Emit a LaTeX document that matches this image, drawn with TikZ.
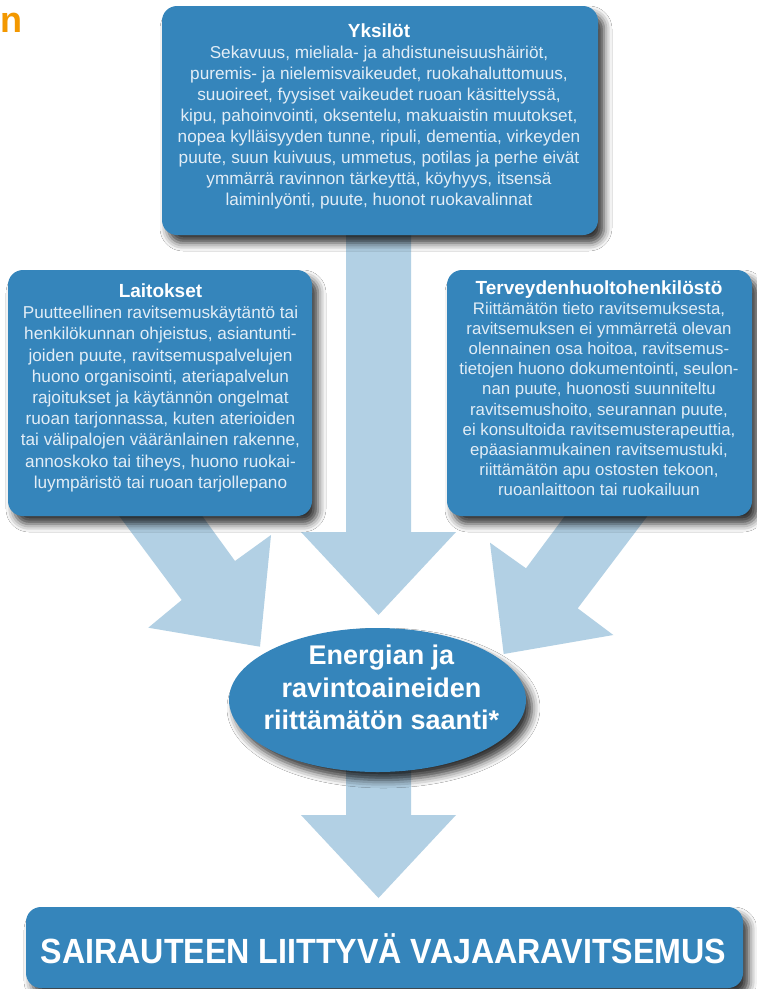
\documentclass[tikz,border=0pt]{standalone}
\usepackage{fontspec}
\setmainfont{Liberation Sans}
\usetikzlibrary{shapes.geometric,shadows.blur}
\definecolor{boxblue}{HTML}{3585BB}
\definecolor{arrowblue}{HTML}{B2D0E4}
\definecolor{bodytxt}{HTML}{E2EDF6}
\definecolor{orangeh}{HTML}{F39800}
\begin{document}
\begin{tikzpicture}[x=1pt,y=-1pt,
  softshadow/.style={blur shadow={shadow xshift=6pt, shadow yshift=-8pt, shadow blur radius=8pt, shadow opacity=80}},
  bluebox/.style={rectangle, fill=boxblue, draw=none, rounded corners=15pt, inner sep=0pt, softshadow},
  blockarrow/.style={fill=arrowblue, draw=none},
  boxtext/.style={inner sep=0pt, align=center, text=bodytxt, anchor=north},
]
\useasboundingbox[fill=white] (0,0) rectangle (756,989);

% orange heading fragment
\node[anchor=base east, inner sep=0pt, text=orangeh, font=\fontsize{36pt}{40pt}\selectfont\bfseries] (hdr) at (22.5,32) {n};

% block arrows
\coordinate (c1) at (346,220); \coordinate (c2) at (346,532); \coordinate (c3) at (301,532);
\coordinate (c4) at (378.5,615); \coordinate (c5) at (456,532); \coordinate (c6) at (411,532);
\coordinate (c7) at (411,220);
\fill[blockarrow] (c1) -- (c2) -- (c3) -- (c4) -- (c5) -- (c6) -- (c7) -- cycle;

\coordinate (l1) at (111,505); \coordinate (l2) at (181.7,600); \coordinate (l3) at (148.3,627.7);
\coordinate (l4) at (260,646.7); \coordinate (l5) at (271,535); \coordinate (l6) at (235,561);
\coordinate (l7) at (194.3,505);
\fill[blockarrow] (l1) -- (l2) -- (l3) -- (l4) -- (l5) -- (l6) -- (l7) -- cycle;

\coordinate (r1) at (655.8,505); \coordinate (r2) at (577.7,608.3); \coordinate (r3) at (613.3,635);
\coordinate (r4) at (503.7,654); \coordinate (r5) at (490,542.7); \coordinate (r6) at (526,568.3);
\coordinate (r7) at (573,505);
\fill[blockarrow] (r1) -- (r2) -- (r3) -- (r4) -- (r5) -- (r6) -- (r7) -- cycle;

\coordinate (b1) at (346,740); \coordinate (b2) at (346,815); \coordinate (b3) at (301,815);
\coordinate (b4) at (378.5,898); \coordinate (b5) at (456,815); \coordinate (b6) at (411,815);
\coordinate (b7) at (411,740);
\fill[blockarrow] (b1) -- (b2) -- (b3) -- (b4) -- (b5) -- (b6) -- (b7) -- cycle;

% boxes
\node[bluebox, minimum width=436pt, minimum height=229pt] (yks) at (380,120.5) {};
\node[bluebox, minimum width=304pt, minimum height=246pt] (lai) at (160,393) {};
\node[bluebox, minimum width=305pt, minimum height=246pt] (ter) at (599.5,393) {};
\node[ellipse, fill=boxblue, draw=none, inner sep=0pt, minimum width=297pt, minimum height=144pt, softshadow] (ell) at (377.5,700) {};
\node[bluebox, minimum width=717pt, minimum height=81pt] (sai) at (384.5,947.5) {};

% texts
\node[boxtext, font=\fontsize{17.2pt}{21pt}\selectfont] (yksT) at (379,23.5) {%
{\fontsize{19pt}{21pt}\selectfont\bfseries\color{white}Yksilöt}\\
Sekavuus, mieliala- ja ahdistuneisuushäiriöt,\\
puremis- ja nielemisvaikeudet, ruokahaluttomuus,\\
suuoireet, fyysiset vaikeudet ruoan käsittelyssä,\\
kipu, pahoinvointi, oksentelu, makuaistin muutokset,\\
nopea kylläisyyden tunne, ripuli, dementia, virkeyden\\
puute, suun kuivuus, ummetus, potilas ja perhe eivät\\
ymmärrä ravinnon tärkeyttä, köyhyys, itsensä\\
laiminlyönti, puute, huonot ruokavalinnat};

\node[boxtext, font=\fontsize{17.2pt}{21.2pt}\selectfont] (laiT) at (160.5,283.5) {%
{\fontsize{19pt}{21pt}\selectfont\bfseries\color{white}Laitokset}\\
Puutteellinen ravitsemuskäytäntö tai\\
henkilökunnan ohjeistus, asiantunti-\\
joiden puute, ravitsemuspalvelujen\\
huono organisointi, ateriapalvelun\\
rajoitukset ja käytännön ongelmat\\
ruoan tarjonnassa, kuten aterioiden\\
tai välipalojen vääränlainen rakenne,\\
annoskoko tai tiheys, huono ruokai-\\
luympäristö tai ruoan tarjollepano};

\node[boxtext, font=\fontsize{16.8pt}{20.1pt}\selectfont] (terT) at (599,280.5) {%
{\fontsize{19pt}{21pt}\selectfont\bfseries\color{white}Terveydenhuoltohenkilöstö}\\
Riittämätön tieto ravitsemuksesta,\\
ravitsemuksen ei ymmärretä olevan\\
olennainen osa hoitoa, ravitsemus-\\
tietojen huono dokumentointi, seulon-\\
nan puute, huonosti suunniteltu\\
ravitsemushoito, seurannan puute,\\
ei konsultoida ravitsemusterapeuttia,\\
epäasianmukainen ravitsemustuki,\\
riittämätön apu ostosten tekoon,\\
ruoanlaittoon tai ruokailuun};

\node[inner sep=0pt, align=center, anchor=north, text=white, font=\fontsize{27pt}{32.5pt}\selectfont\bfseries] (ellT) at (381.5,645) {%
Energian ja\\ravintoaineiden\\riittämätön saanti*};

\node[anchor=base, inner sep=0pt, text=white, font=\fontsize{35pt}{40pt}\selectfont\bfseries] (saiT) at (383.5,963) {\scalebox{0.92}[1]{SAIRAUTEEN LIITTYVÄ VAJAARAVITSEMUS}};
\end{tikzpicture}
\end{document}
